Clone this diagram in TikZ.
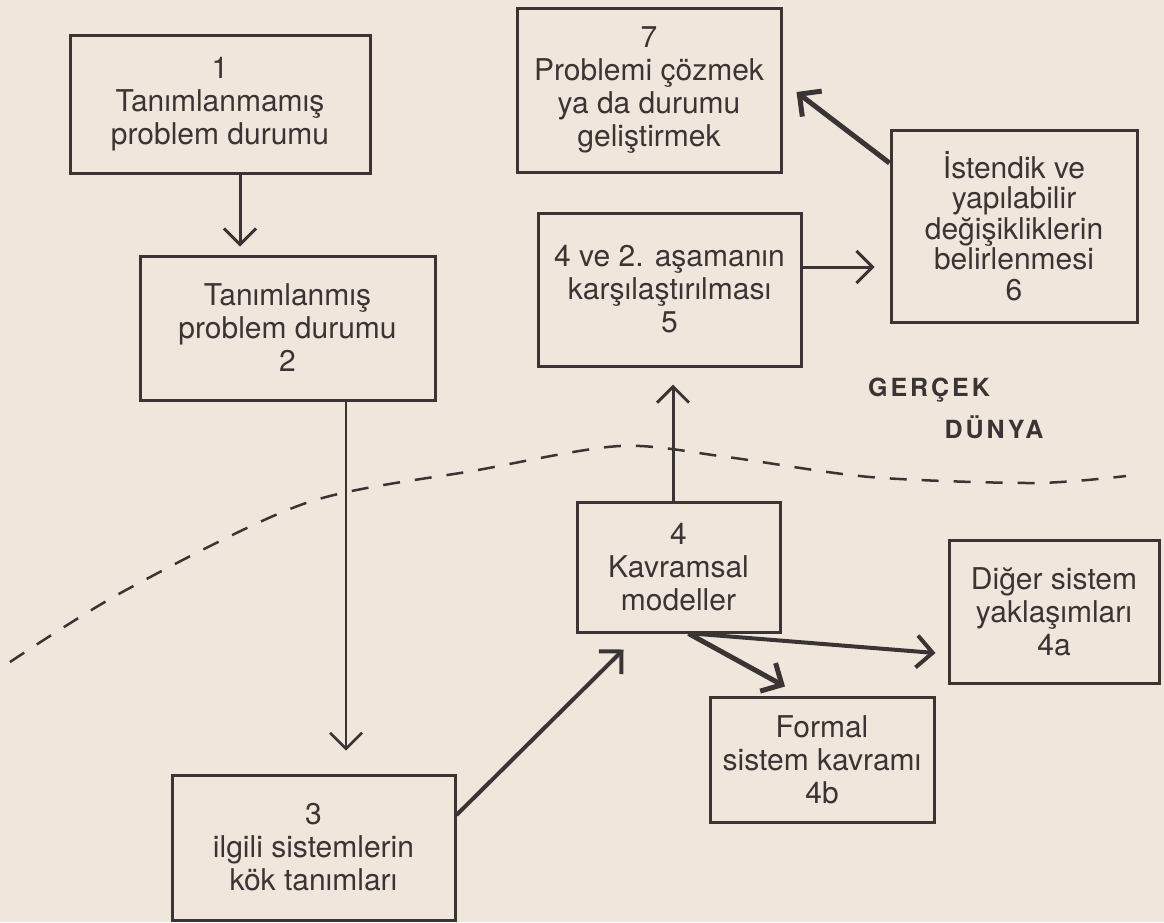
\documentclass[tikz,border=0pt]{standalone}
\usepackage{fontspec}
\setmainfont{TeX Gyre Heros}
\usetikzlibrary{arrows.meta,positioning}
\definecolor{paper}{RGB}{241,230,220}
\definecolor{ink}{RGB}{58,52,52}
\tikzstyle{arrow} = [ink,line width=3pt,-{Straight Barb[length=16pt,width=32pt]}]

\begin{document}
\begin{tikzpicture}[x=1pt,y=-1pt,
    stagebox/.style={rectangle,draw=ink,line width=3pt,text=ink,align=center,inner sep=0pt,
      font=\fontsize{30}{33}\selectfont},
    worldlabel/.style={text=ink,font=\fontsize{25}{28}\selectfont\bfseries\addfontfeature{LetterSpace=12}},]
    % paper
    \fill[paper] (0,0) rectangle (1164,922);
    \useasboundingbox (0,0) rectangle (1164,922);

    % \node[stagebox,minimum width=w,minimum height=h] (name) at (x,y) {text};
    \node[stagebox,minimum width=300pt,minimum height=138pt] (1) at (220,104) {1\\Tanımlanmamış\\problem durumu};
    \node[stagebox,minimum width=295pt,minimum height=144pt] (2) at (287.5,328) {Tanımlanmış\\problem durumu\\2};
    \node[stagebox,minimum width=283pt,minimum height=145pt] (3) at (313.5,847.5) {3\\ilgili sistemlerin\\kök tanımları};
    \node[stagebox,minimum width=203pt,minimum height=130pt] (4) at (678.5,567) {4\\Kavramsal\\modeller};
    \node[stagebox,minimum width=210pt,minimum height=143pt] (4a) at (1054,611.5) {Diğer sistem\\yaklaşımları\\4a};
    \node[stagebox,minimum width=224pt,minimum height=125pt] (4b) at (822,759.5) {Formal\\sistem kavramı\\4b};
    \node[stagebox,minimum width=263pt,minimum height=153pt] (5) at (669.5,289.5) {4 ve 2. aşamanın\\karşılaştırılması\\5};
    \node[stagebox,minimum width=246pt,minimum height=192pt,font=\fontsize{30}{30.5}\selectfont] (6) at (1014,226) {İstendik ve\\yapılabilir\\değişikliklerin\\belirlenmesi\\6};
    \node[stagebox,minimum width=264pt,minimum height=164pt] (7) at (649,90) {7\\Problemi çözmek\\ya da durumu\\geliştirmek};

    % real world
    \node[worldlabel] (real) at (929,390) {GERÇEK};
    \node[worldlabel] (world) at (994,427) {DÜNYA};

    % boundary of the real world
    \draw[ink,line width=2.5pt,dash pattern=on 17pt off 15pt] plot[smooth] coordinates
      {(10,662) (126,590) (306,503) (478,470) (620,446) (727,457) (870,477) (1034,483) (1126,476)};

    % 1 -> 2 -> 3
    \draw[arrow,shorten >=8pt] ([xshift=20pt]1.south) -- ([xshift=20pt]1.south |- 2.north);
    \draw[arrow,line width=2.5pt,shorten >=23pt] ([xshift=58.5pt]2.south) -- ([xshift=58.5pt]2.south |- 3.north);

    % 3 -> 4 -> 5
    \draw[arrow,line width=4pt] ([yshift=32.5pt]3.east) -- ([xshift=48pt,yshift=-16pt]4.south west);
    \draw[arrow,shorten >=17pt] ([xshift=-5.5pt]4.north) -- ([xshift=-5.5pt]4.north |- 5.south);

    % 4 -> 4a, 4b
    \draw[arrow,line width=4pt] ([xshift=14pt]4.south) -- ([xshift=-12pt,yshift=-41.5pt]4a.west);
    \draw[arrow,line width=5pt] ([xshift=10pt]4.south) -- ([xshift=-37pt,yshift=9pt]4b.north);

    % 5 -> 6 -> 7
    \draw[arrow,shorten >=15pt] ([yshift=22.5pt]5.east) -- ([yshift=22.5pt]5.east -| 6.west);
    \draw[arrow,line width=5pt] ([yshift=63pt]6.west) -- ([xshift=14pt,yshift=-2pt]7.east);
\end{tikzpicture}
\end{document}
